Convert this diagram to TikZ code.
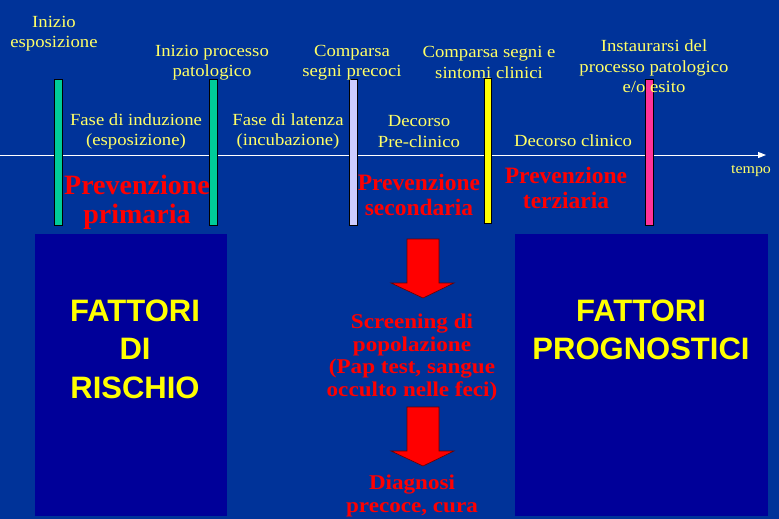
\documentclass[tikz,border=0pt]{standalone}
\usepackage{fontspec}
\setmainfont{Liberation Serif}
\newfontfamily\bigsans{Liberation Sans}
\newfontfamily\serifwide[FakeStretch=1.1]{Liberation Serif}
\usetikzlibrary{arrows.meta}
\definecolor{bg}{HTML}{003399}
\definecolor{boxblue}{HTML}{000099}
\definecolor{lblyellow}{HTML}{FFFF66}
\definecolor{bigyellow}{HTML}{FFFF00}
\definecolor{barGreen}{HTML}{00CC99}
\definecolor{barLav}{HTML}{CCCCFF}
\definecolor{barYel}{HTML}{FFFF00}
\definecolor{barPink}{HTML}{FF3399}
\definecolor{arrowred}{HTML}{FF0000}
\definecolor{arrowedge}{HTML}{660000}
\begin{document}
\begin{tikzpicture}[x=1pt,y=-1pt,
  lbl/.style={text=lblyellow, align=center, inner sep=0pt, font=\serifwide\fontsize{17}{20.5}\selectfont},
  prevbig/.style={text=red, align=center, inner sep=0pt, font=\bfseries\fontsize{28}{29}\selectfont},
  prev/.style={text=red, align=center, inner sep=0pt, font=\bfseries\fontsize{23.5}{25}\selectfont},
  scr/.style={text=red, align=center, inner sep=0pt, font=\serifwide\bfseries\fontsize{21}{22.7}\selectfont},
  factor/.style={text=bigyellow, align=center, inner sep=0pt, font=\bigsans\bfseries\fontsize{31}{38.5}\selectfont},
  panel/.style={fill=boxblue, draw=none, inner sep=0pt},
  bar/.style={draw=black, line width=0.8pt, inner sep=0pt, minimum width=8pt},
  blockarrow/.style={fill=arrowred, draw=arrowedge, line width=0.6pt, line join=miter}]
\fill[bg] (0,0) rectangle (779,519);
\useasboundingbox (0,0) rectangle (779,519);

% panels
\node[panel, minimum width=192pt, minimum height=282pt] (rischio) at (131,375) {};
\node[panel, minimum width=253pt, minimum height=282pt] (progn) at (641.5,375) {};
\node[factor] (trischio) at (135,349) {FATTORI\\DI\\RISCHIO};
\node[factor] (tprogn) at (641,330) {FATTORI\\PROGNOSTICI};

% timeline
\coordinate (tstart) at (0,155);
\coordinate (tend) at (766,155);
\draw[white, line width=1pt, -{Triangle[width=6pt,length=8pt]}] (tstart) -- (tend);
\node[lbl, font=\serifwide\fontsize{14.5}{18}\selectfont] (tempo) at (751,171) {tempo};

% bars
\node[bar, fill=barGreen, minimum height=146pt] (b1) at (58,152.5) {};
\node[bar, fill=barGreen, minimum height=146pt] (b2) at (213,152.5) {};
\node[bar, fill=barLav, minimum height=146pt] (b3) at (353,152.5) {};
\node[bar, fill=barYel, minimum width=7pt, minimum height=145pt] (b4) at (487.5,150.5) {};
\node[bar, fill=barPink, minimum height=146pt] (b5) at (649,152.5) {};

% event labels
\node[lbl] (l1) at (54,33.5) {Inizio\\esposizione};
\node[lbl] (l2) at (212,62.5) {Inizio processo\\patologico};
\node[lbl] (l3) at (352,62.5) {Comparsa\\segni precoci};
\node[lbl] (l4) at (489,62.5) {Comparsa segni e\\sintomi clinici};
\node[lbl] (l5) at (654,66.5) {Instaurarsi del\\processo patologico\\e/o esito};

% phase labels
\node[lbl] (p1) at (136,131.5) {Fase di induzione\\(esposizione)};
\node[lbl] (p2) at (288,131.5) {Fase di latenza\\(incubazione)};
\node[lbl] (p3) at (419,131.5) {Decorso\\Pre-clinico};
\node[lbl, anchor=base] (p4) at (573,146) {Decorso clinico};

% prevention labels
\node[prevbig] (prim) at (137,202.5) {Prevenzione\\primaria};
\node[prev] (sec) at (419,194.5) {Prevenzione\\secondaria};
\node[prev] (ter) at (566,187.5) {Prevenzione\\terziaria};

% screening
\node[scr] (screen) at (412,357.5) {Screening di\\popolazione\\(Pap test, sangue\\occulto nelle feci)};
\node[scr] (diag) at (412,496) {Diagnosi\\precoce, cura};

% block arrows
\draw[blockarrow] (407,239) -- (439,239) -- (439,283) -- (454,283) -- (423,298) -- (391,283) -- (407,283) -- cycle;
\draw[blockarrow] (407,407) -- (439,407) -- (439,451) -- (454,451) -- (423,466) -- (391,451) -- (407,451) -- cycle;
\end{tikzpicture}
\end{document}
